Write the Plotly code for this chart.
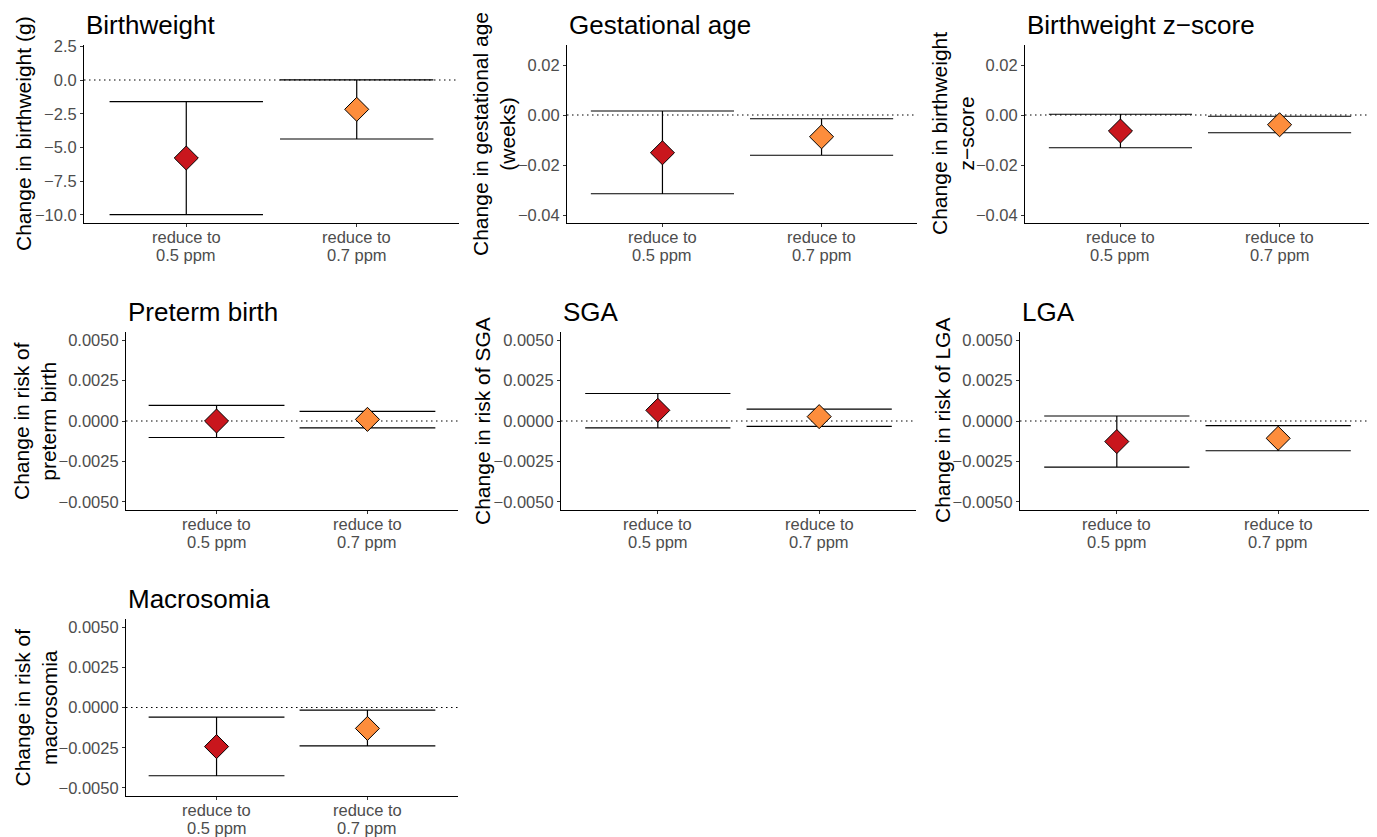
import plotly.graph_objects as go

W, H = 1377, 837
OFF = 8  # default page body margin
FW, FH = W - OFF, H - OFF

categories = ["reduce to 0.5 ppm", "reduce to 0.7 ppm"]
cat_line1 = ["reduce to", "reduce to"]
cat_line2 = ["0.5 ppm", "0.7 ppm"]
colors = ["#C9161D", "#FD8D3C"]

titles = ["Birthweight", "Gestational age", "Birthweight z\u2212score",
          "Preterm birth", "SGA", "LGA", "Macrosomia"]
ytitles = ["Change in birthweight (g)",
           "Change in gestational age<br>(weeks)",
           "Change in birthweight<br>z\u2212score",
           "Change in risk of<br>preterm birth",
           "Change in risk of SGA",
           "Change in risk of LGA",
           "Change in risk of<br>macrosomia"]

bw_est = [-5.78, -2.17]
bw_lo = [-9.98, -4.37]
bw_hi = [-1.60, 0.02]

ga_est = [-0.0151, -0.0087]
ga_lo = [-0.0315, -0.0161]
ga_hi = [0.0016, -0.0015]

z_est = [-0.0064, -0.0039]
z_lo = [-0.0131, -0.0071]
z_hi = [0.0003, -0.0005]

pt_est = [0.0000, 0.0001]
pt_lo = [-0.00102, -0.00043]
pt_hi = [0.00096, 0.00060]

sga_est = [0.00066, 0.00027]
sga_lo = [-0.00043, -0.00033]
sga_hi = [0.00170, 0.00074]

lga_est = [-0.00127, -0.00107]
lga_lo = [-0.00285, -0.00184]
lga_hi = [0.00031, -0.00029]

mac_est = [-0.00243, -0.00130]
mac_lo = [-0.00424, -0.00239]
mac_hi = [-0.00060, -0.00016]

panels = [(bw_est, bw_lo, bw_hi), (ga_est, ga_lo, ga_hi), (z_est, z_lo, z_hi),
          (pt_est, pt_lo, pt_hi), (sga_est, sga_lo, sga_hi),
          (lga_est, lga_lo, lga_hi), (mac_est, mac_lo, mac_hi)]

yranges = [[-10.6, 2.6], [-0.0432, 0.028], [-0.0432, 0.028],
           [-0.0055, 0.0055], [-0.0055, 0.0055], [-0.0055, 0.0055], [-0.0055, 0.0055]]
ytickvals = [[2.5, 0, -2.5, -5, -7.5, -10], [0.02, 0, -0.02, -0.04], [0.02, 0, -0.02, -0.04],
             [0.005, 0.0025, 0, -0.0025, -0.005]] + [[0.005, 0.0025, 0, -0.0025, -0.005]] * 3
ytickfmt = [".1f", ".2f", ".2f", ".4f", ".4f", ".4f", ".4f"]

# pixel layout of plot panels in the page (x0, x1, y0top, y1bottom)
boxes = [(84, 459, 45, 223), (567, 917, 45, 223), (1025, 1375, 45, 223),
         (126, 458, 332, 510), (561, 916, 332, 510), (1020, 1375, 332, 510),
         (126, 458, 619, 796)]
ytitle_x = [23, 494, 953, 35, 482, 942, 35]


def fx(px):
    return (px - OFF) / FW


def fy(py):
    return 1 - (py - OFF) / FH


FONT = "Liberation Sans, Arial, sans-serif"
fig = go.Figure()
layout = dict(width=FW, height=FH, margin=dict(l=0, r=0, t=0, b=0, autoexpand=False),
              paper_bgcolor="white", plot_bgcolor="white", showlegend=False,
              font=dict(family=FONT))
annotations = []
shapes = []

for i, (est, lo, hi) in enumerate(panels):
    n = "" if i == 0 else str(i + 1)
    x0, x1, yt, yb = boxes[i]
    ppu = (x1 - x0) / 2.2
    fig.add_trace(go.Scatter(
        x=categories, y=est, mode="markers",
        xaxis="x" + n, yaxis="y" + n,
        marker=dict(symbol="diamond", size=18.5, color=colors,
                    line=dict(color="black", width=1)),
        error_y=dict(type="data", symmetric=False,
                     array=[h - e for h, e in zip(hi, est)],
                     arrayminus=[e - l for e, l in zip(est, lo)],
                     color="black", thickness=1.2, width=0.45 * ppu),
        hoverinfo="skip"))
    layout["xaxis" + n] = dict(
        domain=[fx(x0), fx(x1)], anchor="y" + n, type="category",
        categoryorder="array", categoryarray=categories,
        range=[-0.6, 1.6], showline=True, linecolor="black", linewidth=1.1,
        ticks="outside", ticklen=3, tickcolor="#333333", showgrid=False,
        zeroline=False, showticklabels=False, automargin=False, fixedrange=True)
    layout["yaxis" + n] = dict(
        domain=[fy(yb), fy(yt)], anchor="x" + n, range=yranges[i],
        tickvals=ytickvals[i], tickformat=ytickfmt[i], showline=True,
        linecolor="black", linewidth=1.1, ticks="outside", ticklen=3,
        tickcolor="#333333", showgrid=False, zeroline=False, automargin=False,
        tickfont=dict(size=16.5, color="#4D4D4D", family=FONT), fixedrange=True)
    shapes.append(dict(type="line", xref="x" + n + " domain", yref="y" + n,
                       x0=0, x1=1, y0=0, y1=0,
                       line=dict(color="black", width=1.1, dash="1.5px,3.5px"),
                       layer="below"))
    for c, l1, l2 in zip(categories, cat_line1, cat_line2):
        for txt, shift in ((l1, -14), (l2, -32)):
            annotations.append(dict(text=txt, xref="x" + n, yref="y" + n + " domain",
                                    x=c, y=0, yshift=shift, xanchor="center",
                                    yanchor="middle", showarrow=False, borderpad=0,
                                    font=dict(size=16.5, color="#4D4D4D", family=FONT)))
    annotations.append(dict(text=titles[i], xref="paper", yref="paper",
                            x=fx(x0), y=fy(yt - 20), xanchor="left",
                            yanchor="middle", showarrow=False,
                            font=dict(size=26, color="black", family=FONT)))
    annotations.append(dict(text=ytitles[i], xref="paper", yref="paper",
                            x=fx(ytitle_x[i]), y=fy((yt + yb) / 2),
                            xanchor="center", yanchor="middle", textangle=-90,
                            showarrow=False,
                            font=dict(size=21, color="black", family=FONT)))

layout["annotations"] = annotations
layout["shapes"] = shapes
fig.update_layout(**layout)
fig.write_html("out.html")
